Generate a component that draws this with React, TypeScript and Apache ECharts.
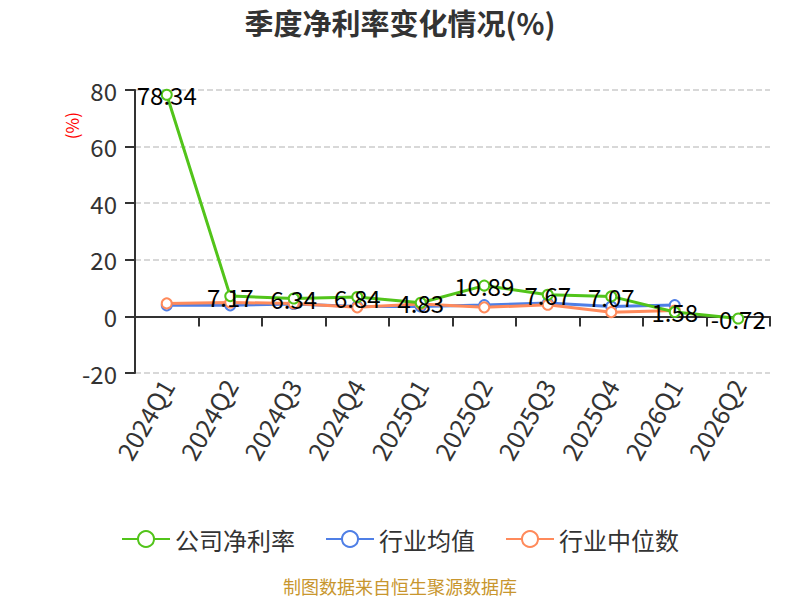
import React, { useEffect, useRef } from "react";
import * as echarts from "echarts";

const categories = ["2024Q1", "2024Q2", "2024Q3", "2024Q4", "2025Q1", "2025Q2", "2025Q3", "2025Q4", "2026Q1", "2026Q2"];
const companyValues = [78.34, 7.17, 6.34, 6.84, 4.83, 10.89, 7.67, 7.07, 1.58, -0.72];
const industryAvg = [3.9, 3.9, 4.4, 3.5, 3.5, 4.0, 4.7, 3.5, 4.0, null];
const industryMedian = [4.6, 4.9, 4.6, 3.2, 4.4, 3.2, 4.1, 1.5, 2.1, null];
const yTicks = { min: -20, max: 80, interval: 20 };

const FONT = "'Noto Sans CJK SC', 'Noto Sans', sans-serif";

export default function App() {
  const ref = useRef<HTMLDivElement>(null);
  useEffect(() => {
    document.body.style.margin = "0";
    if (!ref.current) return;
    const chart = echarts.init(ref.current, null, { renderer: "svg" });
    chart.setOption({
      animation: false,
      textStyle: { fontFamily: FONT },
      title: {
        text: "季度净利率变化情况(%)",
        left: "center",
        top: 2,
        textStyle: { fontSize: 29, fontWeight: "bold", color: "#333", fontFamily: FONT },
      },
      graphic: [
        {
          type: "text",
          x: 63,
          y: 112,
          rotation: Math.PI / 2,
          style: { text: "(%)", fill: "#ff0000", fontSize: 17, fontFamily: FONT, textAlign: "right", textVerticalAlign: "top" },
        },
        {
          type: "text",
          left: "center",
          top: 577,
          style: { text: "制图数据来自恒生聚源数据库", fill: "#c8962e", fontSize: 18, fontFamily: FONT },
        },
      ],
      legend: {
        top: 522,
        left: "center",
        itemWidth: 48,
        itemHeight: 20,
        itemGap: 30,
        textStyle: { fontSize: 24, color: "#333", fontFamily: FONT },
        data: ["公司净利率", "行业均值", "行业中位数"],
      },
      grid: { left: 135, right: 30, top: 90, bottom: 227 },
      xAxis: [
        {
          type: "category",
          data: categories,
          boundaryGap: true,
          axisLine: { onZero: true, lineStyle: { color: "#333", width: 2 } },
          axisTick: { show: true, length: 10, lineStyle: { color: "#333", width: 2 } },
          axisLabel: { show: false },
        },
        {
          type: "category",
          data: categories,
          boundaryGap: true,
          position: "bottom",
          axisLine: { show: false, onZero: false },
          axisTick: { show: false },
          axisLabel: { rotate: 60, fontSize: 25, color: "#333", margin: 8, fontFamily: FONT },
        },
      ],
      yAxis: {
        type: "value",
        min: yTicks.min,
        max: yTicks.max,
        interval: yTicks.interval,
        axisLine: { show: true, lineStyle: { color: "#333", width: 2 } },
        axisTick: { show: true, length: 10, lineStyle: { color: "#333", width: 2 } },
        axisLabel: { fontSize: 24, color: "#333", margin: 18, fontFamily: FONT },
        splitLine: { show: true, lineStyle: { type: "dashed", color: "#ccc", width: 1.5 } },
      },
      series: [
        {
          name: "公司净利率",
          type: "line",
          data: companyValues,
          color: "#52c41a",
          symbol: "circle",
          symbolSize: 10,
          itemStyle: { color: "#fff", borderColor: "#52c41a", borderWidth: 2 },
          lineStyle: { color: "#52c41a", width: 3 },
          label: { show: true, position: "inside", fontSize: 24, color: "#000", fontFamily: FONT },
          z: 3,
        },
        {
          name: "行业均值",
          type: "line",
          data: industryAvg,
          color: "#4f7fe6",
          symbol: "circle",
          symbolSize: 10,
          itemStyle: { color: "#fff", borderColor: "#4f7fe6", borderWidth: 2 },
          lineStyle: { color: "#4f7fe6", width: 3 },
          z: 2,
        },
        {
          name: "行业中位数",
          type: "line",
          data: industryMedian,
          color: "#ff8a5b",
          symbol: "circle",
          symbolSize: 10,
          itemStyle: { color: "#fff", borderColor: "#ff8a5b", borderWidth: 2 },
          lineStyle: { color: "#ff8a5b", width: 3 },
          z: 2,
        },
      ],
    });
    return () => chart.dispose();
  }, []);
  return <div ref={ref} style={{ width: 800, height: 600 }} />;
}
